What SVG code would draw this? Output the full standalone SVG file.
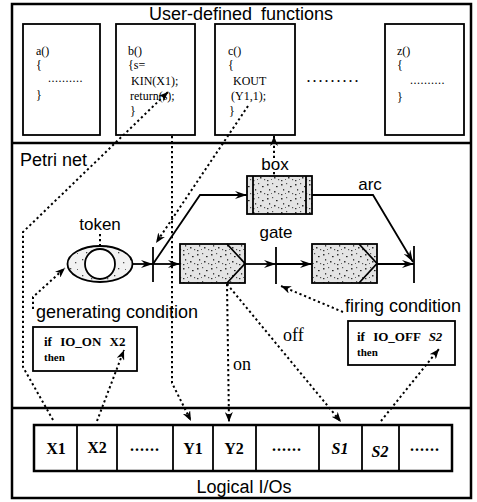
<svg xmlns="http://www.w3.org/2000/svg" width="477" height="502" viewBox="0 0 477 502">
<style>
.frame{fill:none;stroke:#000;stroke-width:2.5}
.fbox{fill:#fff;stroke:#000;stroke-width:1.8}
.sans{font-family:"Liberation Sans",Arial,sans-serif;font-size:18px;fill:#000}
.lbl{font-family:"Liberation Sans",Arial,sans-serif;font-size:17px;fill:#000}
.code{font-family:"Liberation Serif","Times New Roman",serif;font-size:12px;fill:#000}
.cond{font-family:"Liberation Serif","Times New Roman",serif;font-size:13px;font-weight:bold;fill:#000}
.cond2{font-family:"Liberation Serif","Times New Roman",serif;font-size:11px;font-weight:bold;fill:#000}
.io{font-family:"Liberation Serif","Times New Roman",serif;font-size:16px;font-weight:bold;fill:#000}
.ser{font-family:"Liberation Serif","Times New Roman",serif;font-size:18px;fill:#000}
.solid{fill:none;stroke:#000;stroke-width:1.8}
.dot{fill:none;stroke:#000;stroke-width:2;stroke-dasharray:2.2 2.8}
.bar{stroke:#000;stroke-width:1.8}
.stip{fill:url(#stipple);stroke:#000;stroke-width:1.8}
</style>
<defs>
<pattern id="stipple" width="14" height="14" patternUnits="userSpaceOnUse">
<rect width="14" height="14" fill="#e4e4e4"/>
<rect x="1" y="2" width="1.5" height="1.5" fill="#333"/>
<rect x="6" y="1" width="1.2" height="1.2" fill="#555"/>
<rect x="10" y="4" width="1.6" height="1.2" fill="#222"/>
<rect x="3" y="7" width="1.2" height="1.6" fill="#444"/>
<rect x="8" y="9" width="1.5" height="1.5" fill="#333"/>
<rect x="12" y="11" width="1.2" height="1.2" fill="#555"/>
<rect x="1" y="12" width="1.4" height="1.2" fill="#333"/>
<rect x="5" y="11" width="1" height="1" fill="#666"/>
</pattern>
<pattern id="stipple2" width="16" height="16" patternUnits="userSpaceOnUse">
<rect width="16" height="16" fill="#f2f2f2"/>
<rect x="2" y="3" width="1.3" height="1.3" fill="#444"/>
<rect x="11" y="6" width="1.3" height="1.3" fill="#555"/>
<rect x="6" y="12" width="1.3" height="1.3" fill="#444"/>
<rect x="13" y="13" width="1" height="1" fill="#666"/>
</pattern>
<marker id="arr" viewBox="0 0 12 8" markerWidth="12" markerHeight="8" refX="12" refY="4" orient="auto" markerUnits="userSpaceOnUse">
<path d="M0,0 L12,4 L0,8 L4,4 z" fill="#000" stroke="none"/>
</marker>
<marker id="darr" viewBox="0 0 10 8" markerWidth="10" markerHeight="8" refX="10" refY="4" orient="auto" markerUnits="userSpaceOnUse">
<path d="M0,0 L10,4 L0,8 L3,4 z" fill="#000" stroke="none"/>
</marker>
</defs>
<rect width="477" height="502" fill="#fff"/>

<g id="panels">
<rect class="frame" x="12" y="4" width="459" height="494"/>
<line class="frame" x1="12" y1="143" x2="471" y2="143"/>
<line class="frame" x1="12" y1="408" x2="471" y2="408"/>
<text class="sans" x="241" y="20" text-anchor="middle" word-spacing="4">User-defined functions</text>
<text class="sans" x="20" y="166">Petri net</text>
<text class="sans" x="244" y="493" text-anchor="middle">Logical I/Os</text>
</g>

<g id="func-a">
<rect class="fbox" x="23" y="24" width="77" height="111"/>
<text class="code" x="36" y="55">a()</text>
<text class="code" x="36" y="69">{</text>
<text class="code" x="48" y="82" font-size="10" letter-spacing="0.5">..........</text>
<text class="code" x="36" y="99">}</text>
</g>
<g id="func-b">
<rect class="fbox" x="116" y="24" width="79" height="111"/>
<text class="code" x="128" y="55">b()</text>
<text class="code" x="128" y="69">{s=</text>
<text class="code" x="131" y="85">KIN(X1);</text>
<text class="code" x="130" y="100">return(s);</text>
<text class="code" x="130" y="115">}</text>
</g>
<g id="func-c">
<rect class="fbox" x="215" y="24" width="80" height="111"/>
<text class="code" x="228" y="55">c()</text>
<text class="code" x="228" y="69">{</text>
<text class="code" x="233" y="85" font-size="13">KOUT</text>
<text class="code" x="231" y="100">(Y1,1);</text>
<text class="code" x="229" y="115">}</text>
</g>
<g id="func-dots">
<text class="code" x="307" y="82" font-size="14" font-weight="bold" letter-spacing="3">.........</text>
</g>
<g id="func-z">
<rect class="fbox" x="385" y="24" width="79" height="111"/>
<text class="code" x="397" y="55">z()</text>
<text class="code" x="397" y="69">{</text>
<text class="code" x="410" y="84" font-size="10" letter-spacing="0.5">..........</text>
<text class="code" x="397" y="101">}</text>
</g>

<g id="token">
<ellipse cx="100" cy="264" rx="32.5" ry="18" fill="url(#stipple2)" stroke="#000" stroke-width="1.8"/>
<circle cx="100" cy="264" r="15" fill="#fff" stroke="#000" stroke-width="1.8"/>
<text class="lbl" x="100" y="230" text-anchor="middle">token</text>
</g>
<g id="t1"><line class="bar" x1="153" y1="247" x2="153" y2="282"/></g>
<g id="box">
<rect class="stip" x="247" y="176" width="65" height="38"/>
<line class="bar" x1="253" y1="176" x2="253" y2="214" stroke-width="1.2"/>
<line class="bar" x1="306" y1="176" x2="306" y2="214" stroke-width="1.2"/>
<text class="lbl" x="275" y="170" text-anchor="middle">box</text>
</g>
<g id="gbox1">
<rect class="stip" x="180" y="244" width="65" height="39"/>
<polyline class="solid" points="227,244 245,263.5 227,283" stroke-width="1.4"/>
</g>
<g id="gate">
<line class="bar" x1="276" y1="247" x2="276" y2="284"/>
<text class="lbl" x="276" y="238" text-anchor="middle">gate</text>
</g>
<g id="gbox2">
<rect class="stip" x="312" y="244" width="65" height="39"/>
<polyline class="solid" points="359,244 377,263.5 359,283" stroke-width="1.4"/>
</g>
<g id="t2"><line class="bar" x1="414" y1="246" x2="414" y2="283"/></g>
<g id="arc-label"><text class="lbl" x="370" y="190" text-anchor="middle">arc</text></g>

<g id="gen-cond">
<text class="sans" x="36" y="318">generating condition</text>
<rect class="fbox" x="33" y="327" width="104" height="44"/>
<text class="cond" x="44" y="346" word-spacing="5">if IO_ON X2</text>
<text class="cond2" x="44" y="361">then</text>
</g>
<g id="fire-cond">
<text class="sans" x="345" y="312">firing condition</text>
<rect class="fbox" x="348" y="321" width="107" height="44"/>
<text class="cond" x="357" y="341" word-spacing="5">if IO_OFF <tspan font-style="italic">S2</tspan></text>
<text class="cond2" x="357" y="356">then</text>
</g>

<g id="io">
<rect x="34" y="425" width="418" height="46" fill="#fff" stroke="#000" stroke-width="2.5"/>
<line class="bar" x1="77" y1="425" x2="77" y2="471" stroke-width="1.2"/>
<line class="bar" x1="117" y1="425" x2="117" y2="471" stroke-width="1.2"/>
<line class="bar" x1="173" y1="425" x2="173" y2="471" stroke-width="2.2"/>
<line class="bar" x1="213" y1="425" x2="213" y2="471" stroke-width="1.2"/>
<line class="bar" x1="256" y1="425" x2="256" y2="471" stroke-width="1.2"/>
<line class="bar" x1="319" y1="425" x2="319" y2="471" stroke-width="2.2"/>
<line class="bar" x1="362" y1="425" x2="362" y2="471" stroke-width="1.2"/>
<line class="bar" x1="399" y1="425" x2="399" y2="471" stroke-width="1.2"/>
<text class="io" x="56" y="454" text-anchor="middle">X1</text>
<text class="io" x="97" y="453" text-anchor="middle">X2</text>
<text class="io" x="145" y="451" text-anchor="middle" letter-spacing="1">......</text>
<text class="io" x="193" y="454" text-anchor="middle">Y1</text>
<text class="io" x="234" y="454" text-anchor="middle">Y2</text>
<text class="io" x="287" y="451" text-anchor="middle" letter-spacing="1">......</text>
<text class="io" x="340" y="454" text-anchor="middle" font-style="italic">S1</text>
<text class="io" x="380" y="457" text-anchor="middle" font-style="italic">S2</text>
<text class="io" x="425" y="451" text-anchor="middle" letter-spacing="1">......</text>
</g>

<g id="connectors">
<line class="solid" x1="132" y1="264" x2="153" y2="264" marker-end="url(#arr)"/>
<line class="solid" x1="153" y1="264" x2="180" y2="264" marker-end="url(#arr)"/>
<polyline class="solid" points="153,264 200,195 247,195" marker-end="url(#arr)"/>
<polyline class="solid" points="312,195 373,195 413,262" marker-end="url(#arr)"/>
<line class="solid" x1="245" y1="264" x2="276" y2="264" marker-end="url(#arr)"/>
<line class="solid" x1="276" y1="264" x2="312" y2="264" marker-end="url(#arr)"/>
<line class="solid" x1="377" y1="264" x2="414" y2="264" marker-end="url(#arr)"/>

<line class="dot" x1="100" y1="234" x2="100" y2="249"/>
<line class="dot" x1="274" y1="172" x2="274" y2="176"/>
<line class="dot" x1="274" y1="158" x2="274" y2="136" marker-end="url(#darr)"/>
<polyline class="dot" points="53,420 23,367 23,232 168,92" marker-end="url(#darr)"/>
<polyline class="dot" points="33,309 33,297 65,268" marker-end="url(#darr)"/>
<line class="dot" x1="97" y1="421" x2="124" y2="350" marker-end="url(#darr)"/>
<line class="dot" x1="248" y1="106" x2="156" y2="243" marker-end="url(#darr)"/>
<polyline class="dot" points="172,136 172,383 191,421" marker-end="url(#darr)"/>
<line class="dot" x1="227" y1="284" x2="229" y2="422" marker-end="url(#darr)"/>
<line class="dot" x1="227" y1="284" x2="341" y2="422" marker-end="url(#darr)"/>
<line class="dot" x1="381" y1="421" x2="439" y2="349" marker-end="url(#darr)"/>
<line class="dot" x1="343" y1="312" x2="281" y2="286" marker-end="url(#darr)"/>
<text class="ser" x="233" y="370">on</text>
<text class="ser" x="283" y="341">off</text>
</g>
</svg>
